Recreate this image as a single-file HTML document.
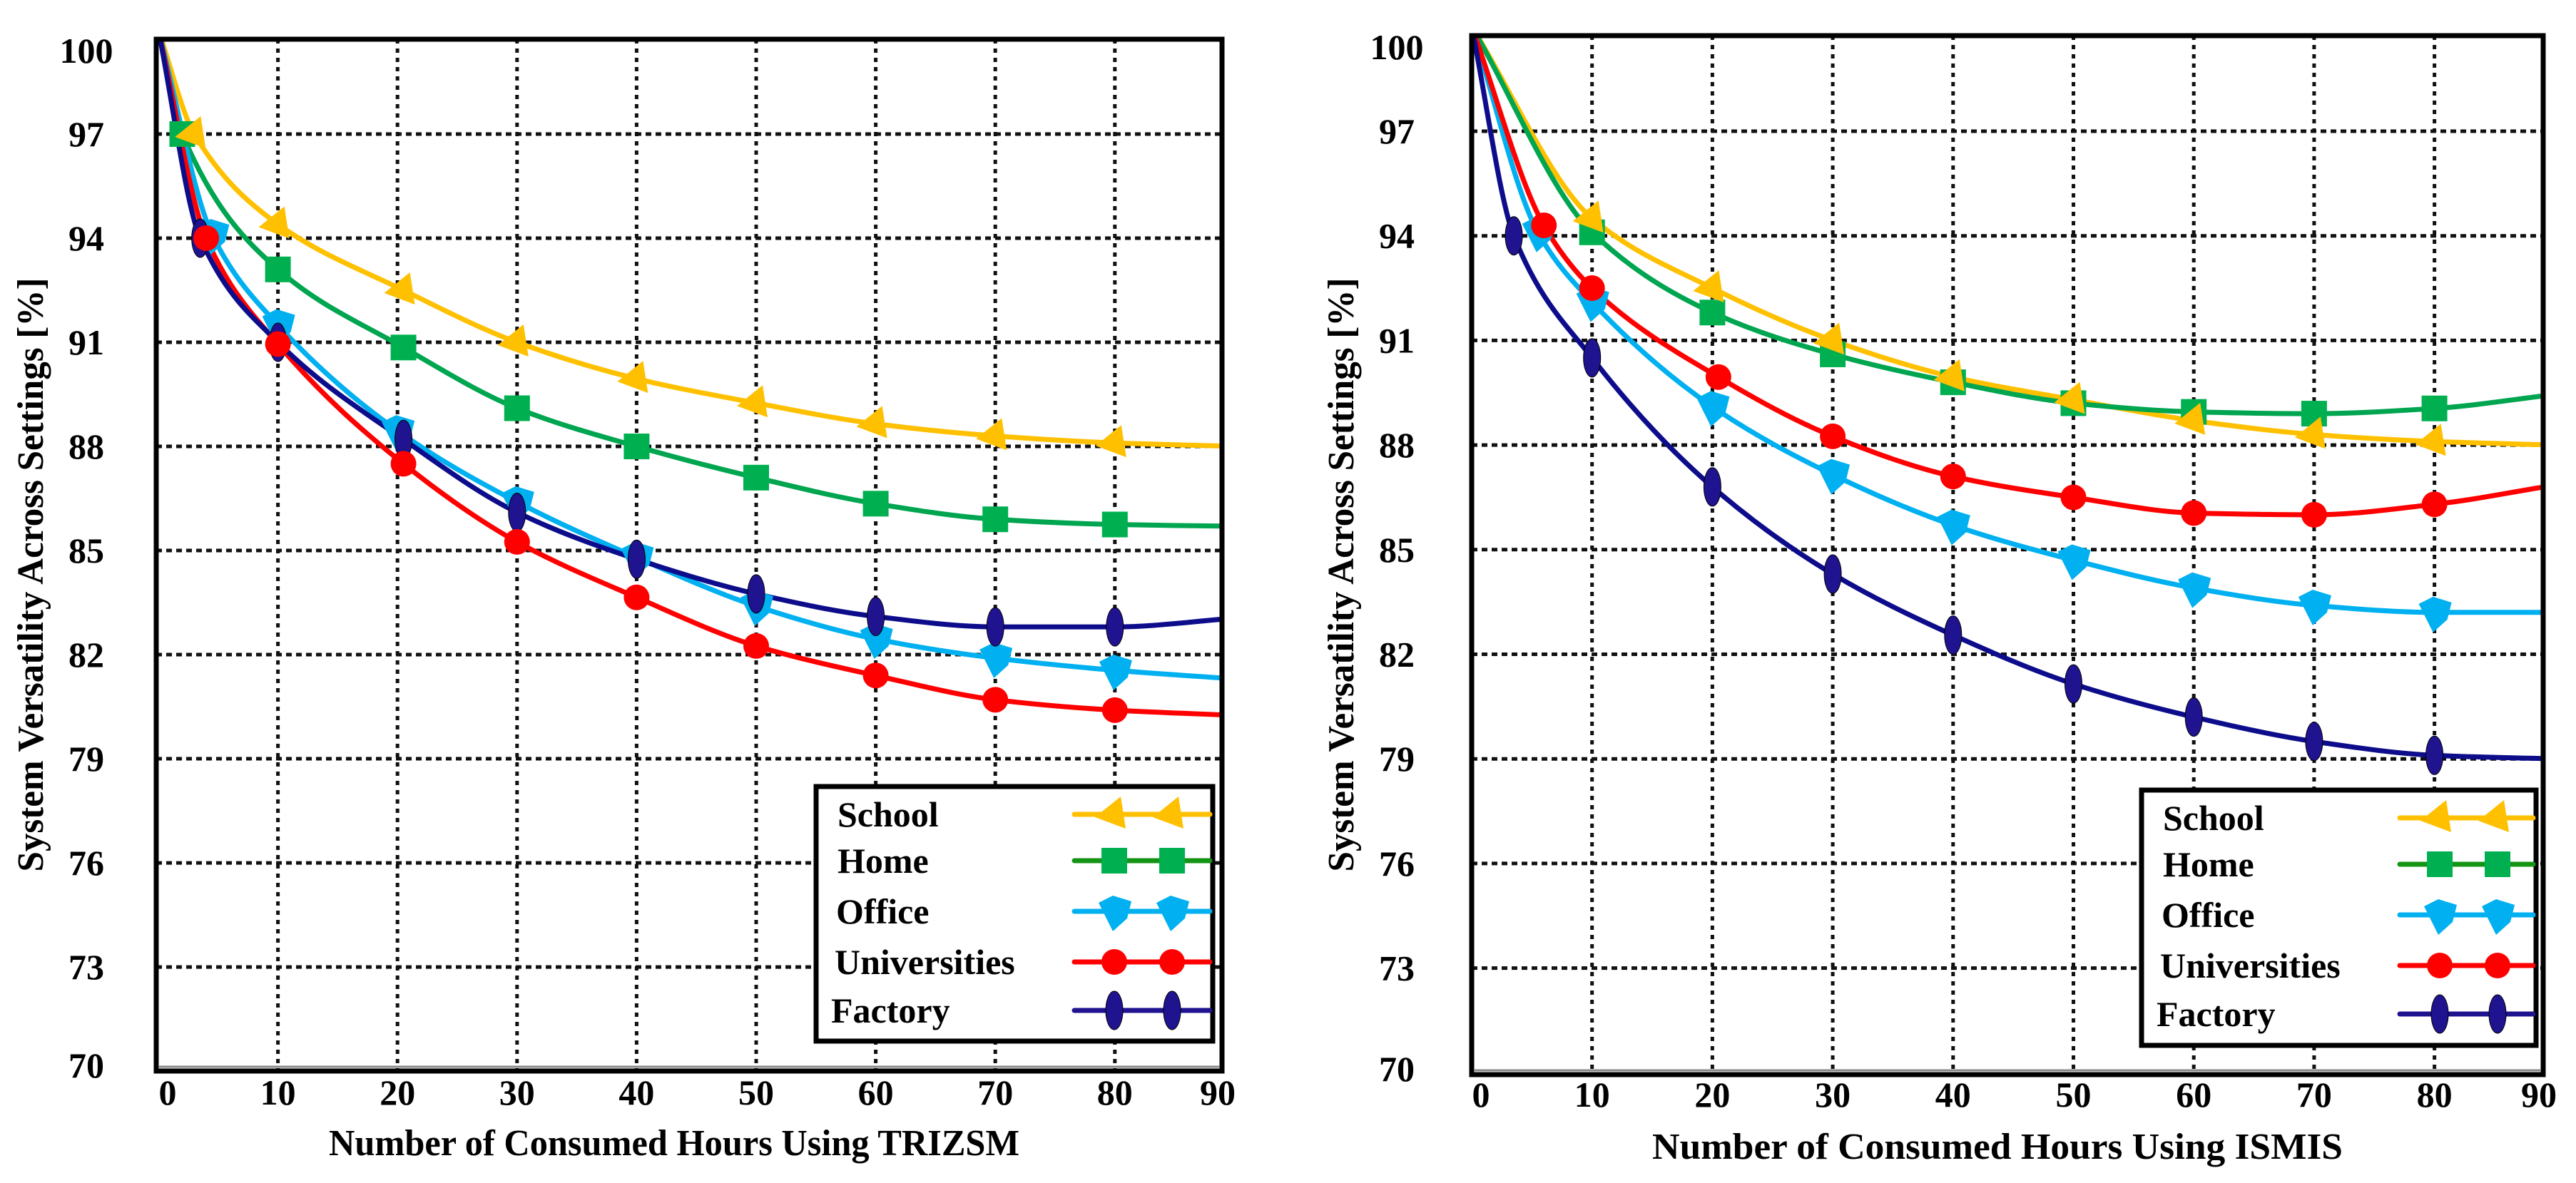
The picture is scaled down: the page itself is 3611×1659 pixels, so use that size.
<!DOCTYPE html>
<html><head><meta charset="utf-8"><style>
html,body{margin:0;padding:0;background:#fff;}
svg{display:block;font-family:"Liberation Serif",serif;font-weight:bold;}
</style></head><body>
<svg id="fig" width="3611" height="1659" viewBox="0 0 3611 1659" xmlns="http://www.w3.org/2000/svg"></svg>
<script>
// ---- data ----
const seriesNames = ["School","Home","Office","Universities","Factory"];
const yTicks = [70,73,76,79,82,85,88,91,94,97,100];
const xTicks = [0,10,20,30,40,50,60,70,80,90];

// Left chart (TRIZSM)
const L_schoolX = [0,3,10,20.5,30,40,50,60,70,80,90];
const L_schoolY = [100,97.0,94.4,92.5,91.0,89.95,89.25,88.65,88.3,88.1,88.0];
const L_homeX = [0,2,10,20.5,30,40,50,60,70,80,90];
const L_homeY = [100,97.0,93.1,90.85,89.1,88.0,87.1,86.35,85.9,85.75,85.7];
const L_officeX = [0,4.5,10,20,30,40,50,60,70,80,90];
const L_officeY = [100,94.1,91.5,88.45,86.4,84.8,83.4,82.45,81.9,81.55,81.3];
const L_uniX = [0,4,10,20.5,30,40,50,60,70,80,90];
const L_uniY = [100,94.0,90.95,87.5,85.25,83.65,82.25,81.4,80.7,80.4,80.25];
const L_factX = [0,3.5,10,20.5,30,40,50,60,70,80,90];
const L_factY = [100,94.0,91.0,88.2,86.1,84.75,83.75,83.1,82.8,82.8,83.05];

// Right chart (ISMIS)
const R_schoolX = [0,10,20,30,40,50,60,70,80,90];
const R_schoolY = [100,94.5,92.5,91.0,89.95,89.3,88.7,88.3,88.1,88.0];
const R_homeX = [0,10,20,30,40,50,60,70,80,90];
const R_homeY = [100,94.1,91.8,90.6,89.8,89.2,88.95,88.9,89.05,89.45];
const R_officeX = [0,5.5,10,20,30,40,50,60,70,80,90];
const R_officeY = [100,94.1,92.1,89.1,87.15,85.7,84.7,83.9,83.4,83.2,83.2];
const R_uniX = [0,6,10,20.5,30,40,50,60,70,80,90];
const R_uniY = [100,94.3,92.5,89.95,88.25,87.1,86.5,86.05,86.0,86.3,86.85];
const R_factX = [0,3.5,10,20,30,40,50,60,70,80,90];
const R_factY = [100,94.0,90.5,86.8,84.3,82.55,81.15,80.2,79.5,79.1,79.0];

const colors = ["#FFC000","#00A550","#00B0F0","#FF0000","#0D0D8C"];
const markerColors = ["#FFC000","#00B050","#00B0F0","#FF0000","#1F1390"];
const legendLineColors = ["#FFC000","#149414","#00B0F0","#FF0000","#1F1390"];

const NS = "http://www.w3.org/2000/svg";
const svg = document.getElementById('fig');
function el(tag, attrs, parent){
  const e = document.createElementNS(NS, tag);
  for (const k in attrs) e.setAttribute(k, attrs[k]);
  (parent||svg).appendChild(e);
  return e;
}

function monotonePath(px, py){
  const n = px.length;
  const d = [], m = [];
  for (let i=0;i<n-1;i++) d.push((py[i+1]-py[i])/(px[i+1]-px[i]));
  m[0]=d[0]; m[n-1]=d[n-2];
  for (let i=1;i<n-1;i++){
    if (d[i-1]*d[i] <= 0) m[i]=0;
    else { const w1=2*(px[i+1]-px[i])+(px[i]-px[i-1]), w2=(px[i+1]-px[i])+2*(px[i]-px[i-1]);
      m[i]=(w1+w2)/(w1/d[i-1]+w2/d[i]); }
  }
  let s = "M"+px[0].toFixed(1)+","+py[0].toFixed(1);
  for (let i=0;i<n-1;i++){
    const h = px[i+1]-px[i];
    s += " C"+(px[i]+h/3).toFixed(1)+","+(py[i]+m[i]*h/3).toFixed(1)+" "+(px[i+1]-h/3).toFixed(1)+","+(py[i+1]-m[i+1]*h/3).toFixed(1)+" "+px[i+1].toFixed(1)+","+py[i+1].toFixed(1);
  }
  return s;
}

function marker(g, type, cx, cy, color, s){
  s = s||1;
  let m;
  if (type===0){ // triangle pointing left
    m = el('polygon',{points:[[cx-27*s,cy+4*s],[cx+9*s,cy-25*s],[cx+16*s,cy+20*s]].map(p=>p.join(',')).join(' '),fill:color},g);
  } else if (type===1){
    m = el('rect',{x:cx-18*s,y:cy-18*s,width:36*s,height:36*s,fill:color},g);
  } else if (type===2){ // pentagon pointing down
    m = el('polygon',{points:[[cx-22*s,cy-12*s],[cx-2*s,cy-22*s],[cx+24*s,cy-14*s],[cx+18*s,cy+10*s],[cx-2*s,cy+28*s]].map(p=>p.join(',')).join(' '),fill:color},g);
  } else if (type===3){
    m = el('circle',{cx:cx,cy:cy,r:18*s,fill:color},g);
  } else {
    m = el('ellipse',{cx:cx,cy:cy,rx:12*s,ry:27*s,fill:color,stroke:"#000",'stroke-width':1},g);
  }
  
  
  return m;
}

function drawChart(opt){
  const g = el('g',{});
  
  
  const X = v => opt.x0 + v*opt.xs;
  const Y = v => opt.y97 + (97-v)*opt.ys;
  const fr = {l:opt.frameL, r:opt.frameR, t:opt.frameT, b:opt.frameB};
  el('rect',{x:fr.l,y:fr.t,width:fr.r-fr.l,height:fr.b-fr.t,fill:"#fff"},g);
  const grid = el('g',{},g);
  
  
  yTicks.forEach(v=>{
    if (v<=70||v>=100) return;
    const ln = el('line',{x1:fr.l,x2:fr.r,y1:Y(v),y2:Y(v),stroke:"#111",'stroke-width':5,'stroke-dasharray':"8,6"},grid);
    
    
  });
  xTicks.forEach(v=>{
    if (v<=0||v>=90) return;
    const ln = el('line',{x1:X(v),x2:X(v),y1:fr.t,y2:fr.b,stroke:"#111",'stroke-width':5,'stroke-dasharray':"6,7"},grid);
    
    
  });
  const cid = opt.name+'-clip';
  const cp = el('clipPath',{id:cid},g);
  el('rect',{x:fr.l,y:fr.t,width:fr.r-fr.l,height:fr.b-fr.t},cp);
  const plot = el('g',{'clip-path':'url(#'+cid+')'},g);
  opt.series.forEach((s,i)=>{
    const sg = el('g',{},plot);
    
    
    const px = s.x.map(X), py = s.y.map(Y);
    const p = el('path',{d:monotonePath(px,py),fill:"none",stroke:colors[i],'stroke-width':7,'stroke-linejoin':'round','stroke-linecap':'round'},sg);
    
    
  });
  [1,2,4,3,0].forEach(i=>{
    const s = opt.series[i];
    const sg = el('g',{},plot);
    s.x.forEach((xv,k)=>{
      if (xv<=0 || xv>=90) return;
      marker(sg,i,X(xv),Y(s.y[k]),markerColors[i]);
    });
  });
  const frame = el('rect',{x:fr.l,y:fr.t,width:fr.r-fr.l,height:fr.b-fr.t,fill:"none",stroke:"#000",'stroke-width':7},g);
  
  
  el('line',{x1:fr.l+4,x2:fr.r-4,y1:fr.b-6,y2:fr.b-6,stroke:"#888",'stroke-width':3},g);
  yTicks.forEach(v=>{
    let yy = Y(v);
    if (v===100) yy = fr.t+16;
    if (yy > fr.b-8) yy = fr.b-8;
    const t = el('text',{x:opt.yLabelX,y:yy+17,'text-anchor':'middle','font-size':50},g);
    t.textContent = v;
    
    
  });
  xTicks.forEach(v=>{
    let xx = v===0 ? X(0)+13 : (v===90 ? fr.r-6 : X(v));
    const t = el('text',{x:xx,y:opt.xLabelY+17,'text-anchor':'middle','font-size':50},g);
    t.textContent = v;
    
    
  });
  const xt = el('text',{x:opt.xTitleX,y:opt.xTitleY+17,'text-anchor':'middle','font-size':52,textLength:968,lengthAdjust:'spacingAndGlyphs'},g);
  xt.textContent = opt.xTitle;
  
  
  const yt = el('text',{x:0,y:0,'text-anchor':'middle','font-size':52,textLength:833,lengthAdjust:'spacingAndGlyphs',transform:'translate('+(opt.yTitleX+17)+','+opt.yTitleY+') rotate(-90)'},g);
  yt.textContent = "System Versatility Across Settings [%]";
  
  
  const lg = el('g',{},g);
  
  
  const L = opt.legend;
  el('rect',{x:L.l,y:L.t,width:L.r-L.l,height:L.b-L.t,fill:"#fff",stroke:"#000",'stroke-width':7},lg);
  const rowsY = [L.t+39,L.t+104,L.t+175,L.t+246,L.t+314];
  const textX = [30,30,28,26,21];
  rowsY.forEach((ry,i)=>{
    const e = el('g',{},lg);
    
    
    const t = el('text',{x:L.l+textX[i],y:ry+17,'font-size':50},e);
    t.textContent = seriesNames[i];
    el('line',{x1:L.l+362,x2:L.r-4,y1:ry,y2:ry,stroke:legendLineColors[i],'stroke-width':7,'stroke-linecap':'round'},e);
    marker(e,i,L.l+418,ry,markerColors[i]);
    marker(e,i,L.l+499,ry,markerColors[i]);
  });
}

drawChart({
  name:'left-chart', x0:222, xs:16.76, y97:188, ys:48.67,
  frameL:219, frameR:1713, frameT:55, frameB:1502,
  yLabelX:121, xLabelY:1532, xTitle:"Number of Consumed Hours Using TRIZSM",
  xTitleX:945, xTitleY:1603, yTitleX:43, yTitleY:806,
  legend:{l:1144,t:1103,r:1700,b:1460},
  series:[{x:L_schoolX,y:L_schoolY},{x:L_homeX,y:L_homeY},{x:L_officeX,y:L_officeY},{x:L_uniX,y:L_uniY},{x:L_factX,y:L_factY}]
});
drawChart({
  name:'right-chart', x0:2063, xs:16.87, y97:184, ys:48.9,
  frameL:2063, frameR:3565, frameT:50, frameB:1507,
  yLabelX:1958, xLabelY:1535, xTitle:"Number of Consumed Hours Using ISMIS",
  xTitleX:2800, xTitleY:1608, yTitleX:1880, yTitleY:806,
  legend:{l:3002,t:1108,r:3555,b:1466},
  series:[{x:R_schoolX,y:R_schoolY},{x:R_homeX,y:R_homeY},{x:R_officeX,y:R_officeY},{x:R_uniX,y:R_uniY},{x:R_factX,y:R_factY}]
});
</script>
</body></html>
